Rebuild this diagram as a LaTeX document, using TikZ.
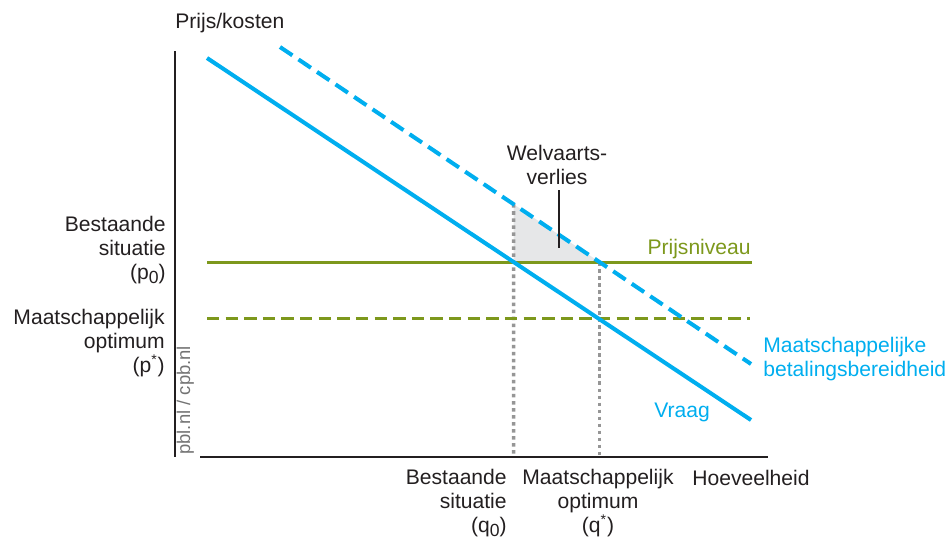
\documentclass[tikz,border=0pt]{standalone}
\usepackage{fontspec}
\setmainfont{Liberation Sans}
\definecolor{pblblauw}{RGB}{0,174,239}
\definecolor{pblgroen}{RGB}{125,152,28}
\definecolor{pblgrijs}{RGB}{150,150,150}
\definecolor{vlakgrijs}{RGB}{230,231,232}
\definecolor{tekstgrijs}{RGB}{35,31,32}
\newcommand{\onder}[1]{\raisebox{-0.4ex}{\fontsize{10}{10}\selectfont #1}}

\begin{document}
\begin{tikzpicture}[x=0.02cm,y=-0.02cm,
		tekst/.style={font=\fontsize{12}{13.6}\selectfont, inner sep=0pt, text=tekstgrijs},
		vraaglijn/.style={pblblauw, line width=2.3pt},
		niveaulijn/.style={pblgroen, line width=1.7pt},
		hulplijn/.style={pblgrijs, line width=2pt, dash pattern=on 2pt off 2pt}]
		\useasboundingbox (0,0) rectangle (949,538);
		
		% assen
		\coordinate (oorsprong) at (175,457);
		\coordinate (ytop) at (175,51);
		\coordinate (xstart) at (200,457);
		\coordinate (xeind) at (768,457);
		
		% lijnen
		\coordinate (v1) at (207,58);
		\coordinate (v2) at (751,420);
		\coordinate (b1) at (280,47);
		\coordinate (b2) at (751,364);
		\coordinate (n1) at (207,262);
		\coordinate (n2) at (752,262);
		\coordinate (o1) at (207,318);
		\coordinate (o2) at (750,318);
		
		\coordinate (q0) at (intersection of v1--v2 and n1--n2);
		\coordinate (qtop) at (q0 |- b1);
		\coordinate (tt) at (intersection of b1--b2 and q0--qtop);
		\coordinate (tr) at (intersection of b1--b2 and n1--n2);
		\coordinate (q0as) at (q0 |- oorsprong);
		\coordinate (qsas) at (tr |- oorsprong);
		
		\fill[vlakgrijs] (q0) -- (tt) -- (tr) -- cycle;
		\draw[hulplijn] (tt) -- (q0as);
		\draw[hulplijn] (tr) -- (qsas);
		
		\draw[niveaulijn] (n1) -- (n2);
		\draw[niveaulijn, dash pattern=on 7pt off 3.6pt] (o1) -- (o2);
		\draw[vraaglijn] (v1) -- (v2);
		\draw[vraaglijn, dash pattern=on 8.5pt off 4.2pt] (b1) -- (b2);
		
		\draw[line width=0.8pt, tekstgrijs] (ytop) -- (oorsprong);
		\draw[line width=0.8pt, tekstgrijs] (xstart) -- (xeind);
		
		\node[tekst, anchor=base west] (prijs) at (175,28) {Prijs/kosten};
		\node[tekst, anchor=base west] (hoeveel) at (692,485) {Hoeveelheid};
		\node[tekst, anchor=north east, align=right] (p0) at (166,216) {Bestaande\\situatie\\(p\onder{0})};
		\node[tekst, anchor=north east, align=right] (pster) at (165,309) {Maatschappelijk\\optimum\\(p\textsuperscript{*})};
		\node[tekst, anchor=north east, align=right] (q0tekst) at (507,469) {Bestaande\\situatie\\(q\onder{0})};
		\node[tekst, anchor=north, align=center] (qstertekst) at (598,469) {Maatschappelijk\\optimum\\(q\textsuperscript{*})};
		\node[tekst, anchor=base east, text=pblgroen] (niveau) at (751,254) {Prijsniveau};
		\node[tekst, anchor=north west, align=left, text=pblblauw] (bereid) at (763,337) {Maatschappelijke\\betalingsbereidheid};
		\node[tekst, anchor=base, text=pblblauw] (vraag) at (682,417) {Vraag};
		\node[tekst, anchor=north, align=center] (verlies) at (557,145) {Welvaarts-\\verlies};
		\coordinate (verliespunt) at (559,248);
		\draw[line width=0.6pt, tekstgrijs] ([yshift=-3pt]verlies.south -| verliespunt) -- (verliespunt);
		
		\node[font=\fontsize{10.5}{12}\selectfont, inner sep=0pt, text=black!55, rotate=90, anchor=base west] (bron) at (190,455) {pbl.nl / cpb.nl};
\end{tikzpicture}
\end{document}
